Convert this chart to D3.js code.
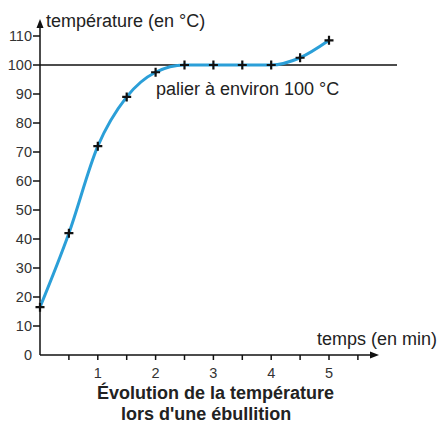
<!DOCTYPE html>
<html>
<head>
<meta charset="utf-8">
<script src="https://cdn.jsdelivr.net/npm/d3@7"></script>
<style>
  body { margin: 0; background: #fff; }
  text { font-family: "Liberation Sans", Arial, sans-serif; }
</style>
</head>
<body>
<svg id="chart"></svg>
<script>
// data
const times = [0, 0.5, 1, 1.5, 2, 2.5, 3, 3.5, 4, 4.5, 5];
const temps = [16.5, 42, 72, 89, 97.5, 100, 100, 100, 100, 102.5, 108.5];
const yTicks = [0, 10, 20, 30, 40, 50, 60, 70, 80, 90, 100, 110];
const xTicks = [0.5, 1, 1.5, 2, 2.5, 3, 3.5, 4, 4.5, 5, 5.5];
const xLabels = [1, 2, 3, 4, 5];
const plateau = 100;

const width = 439, height = 424;
const svg = d3.select('#chart').attr('width', width).attr('height', height);

const x = d3.scaleLinear().domain([0, 5]).range([40, 329]);
const y = d3.scaleLinear().domain([0, 100]).range([355, 65]);

const ink = '#111';

// plateau line
svg.append('line')
  .attr('x1', x(0)).attr('x2', 397)
  .attr('y1', y(plateau)).attr('y2', y(plateau))
  .attr('stroke', ink).attr('stroke-width', 1.3);

// y axis
svg.append('line')
  .attr('x1', x(0)).attr('x2', x(0))
  .attr('y1', y(0)).attr('y2', 26)
  .attr('stroke', ink).attr('stroke-width', 1.5);
svg.append('path')
  .attr('d', `M${x(0) - 3.5},${28} L${x(0)},${19} L${x(0) + 3.5},${28} Z`)
  .attr('fill', ink);

svg.selectAll('line.ytick')
  .data(yTicks.filter(d => d > 0))
  .enter().append('line')
  .attr('class', 'ytick')
  .attr('x1', x(0) - 7).attr('x2', x(0))
  .attr('y1', d => y(d)).attr('y2', d => y(d))
  .attr('stroke', ink).attr('stroke-width', 1.5);

svg.selectAll('text.ylab')
  .data(yTicks)
  .enter().append('text')
  .attr('class', 'ylab')
  .attr('x', 32)
  .attr('y', d => y(d) + 5)
  .attr('text-anchor', 'end')
  .attr('font-size', 14.5)
  .attr('fill', '#333')
  .text(d => d);

// x axis
svg.append('line')
  .attr('x1', x(0)).attr('x2', 372)
  .attr('y1', y(0)).attr('y2', y(0))
  .attr('stroke', ink).attr('stroke-width', 1.5);
svg.append('path')
  .attr('d', `M${370},${y(0) - 3.5} L${379},${y(0)} L${370},${y(0) + 3.5} Z`)
  .attr('fill', ink);

svg.selectAll('line.xtick')
  .data(xTicks)
  .enter().append('line')
  .attr('class', 'xtick')
  .attr('x1', d => x(d)).attr('x2', d => x(d))
  .attr('y1', y(0)).attr('y2', y(0) + 5)
  .attr('stroke', ink).attr('stroke-width', 1.5);

svg.selectAll('text.xlab')
  .data(xLabels)
  .enter().append('text')
  .attr('class', 'xlab')
  .attr('x', d => x(d))
  .attr('y', 378)
  .attr('text-anchor', 'middle')
  .attr('font-size', 14.5)
  .attr('fill', '#333')
  .text(d => d);

// curve
const pts = times.map((t, i) => [t, temps[i]]);
const line = d3.line()
  .x(d => x(d[0]))
  .y(d => y(d[1]))
  .curve(d3.curveMonotoneX);

svg.append('path')
  .datum(pts)
  .attr('d', line)
  .attr('fill', 'none')
  .attr('stroke', '#2b9fd8')
  .attr('stroke-width', 3);

// cross markers
const s = 4.5;
svg.selectAll('path.mark')
  .data(pts)
  .enter().append('path')
  .attr('class', 'mark')
  .attr('d', d => {
    const px = x(d[0]), py = y(d[1]);
    return `M${px - s},${py} H${px + s} M${px},${py - s} V${py + s}`;
  })
  .attr('stroke', ink)
  .attr('stroke-width', 2.2);

// labels
svg.append('text')
  .attr('x', 46).attr('y', 27)
  .attr('font-size', 18)
  .attr('fill', '#222')
  .text('température (en °C)');

svg.append('text')
  .attr('x', 437).attr('y', 345)
  .attr('text-anchor', 'end')
  .attr('font-size', 18)
  .attr('fill', '#222')
  .text('temps (en min)');

svg.append('text')
  .attr('x', 156).attr('y', 95)
  .attr('font-size', 18)
  .attr('fill', '#222')
  .text('palier à environ 100 °C');

svg.append('text')
  .attr('x', 97).attr('y', 399)
  .attr('font-size', 18)
  .attr('font-weight', 'bold')
  .attr('fill', '#222')
  .text('Évolution de la température');

svg.append('text')
  .attr('x', 121).attr('y', 420)
  .attr('font-size', 18)
  .attr('font-weight', 'bold')
  .attr('fill', '#222')
  .text("lors d'une ébullition");
</script>
</body>
</html>
